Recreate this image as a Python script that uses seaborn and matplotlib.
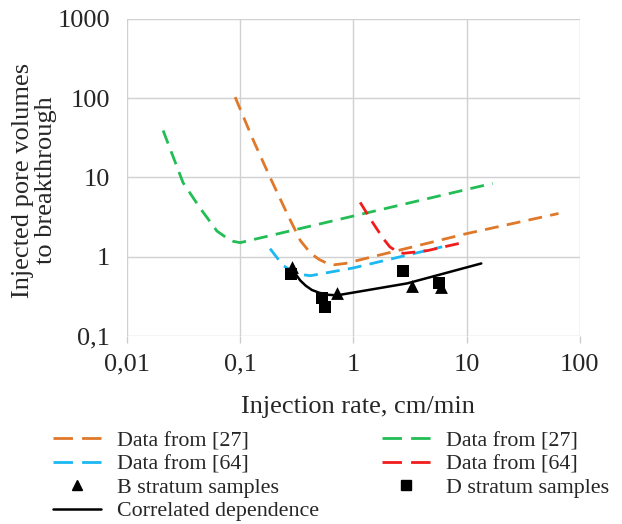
import matplotlib
matplotlib.use("Agg")
import matplotlib.pyplot as plt
from matplotlib.lines import Line2D
import numpy as np
import pandas as pd
import seaborn as sns

sns.set_style("whitegrid", {"grid.color": ".82"})
plt.rcParams["font.family"] = ["Liberation Serif", "DejaVu Serif"]

# curves (x: cm/min, y: pore volumes)
orange27_x = [0.0904, 0.13, 0.184, 0.26, 0.34, 0.42, 0.5, 0.58, 0.68, 0.85, 10, 65]
orange27_y = [103, 30, 10, 3.5, 1.6, 1.1, 0.92, 0.83, 0.79, 0.82, 1.95, 3.5]

green27_x = [0.0209, 0.0313, 0.0443, 0.0625, 0.075, 0.087, 0.1, 1, 17]
green27_y = [39, 8.6, 4.1, 2.1, 1.75, 1.56, 1.5, 3.25, 8.4]

blue64_x = [0.184, 0.24, 0.3, 0.36, 0.42, 1, 6.1]
blue64_y = [1.26, 0.77, 0.64, 0.59, 0.575, 0.72, 1.33]

red64_x = [1.15, 1.5, 1.84, 2.1, 2.4, 2.77, 4.5, 9.2]
red64_y = [4.83, 2.62, 1.69, 1.33, 1.17, 1.1, 1.19, 1.5]

corr_x = [0.31, 0.34, 0.38, 0.43, 0.5, 0.6, 0.72, 3.0, 13.5]
corr_y = [0.60, 0.50, 0.43, 0.38, 0.35, 0.33, 0.325, 0.46, 0.82]

b_x = [0.29, 0.72, 3.3, 5.9]
b_y = [0.74, 0.35, 0.42, 0.41]

d_x = [0.28, 0.53, 0.56, 2.75, 5.7]
d_y = [0.60, 0.30, 0.23, 0.665, 0.47]

x_ticks = [0.01, 0.1, 1, 10, 100]
x_labels = ["0,01", "0,1", "1", "10", "100"]
y_ticks = [0.1, 1, 10, 100, 1000]
y_labels = ["0,1", "1", "10", "100", "1000"]

c_orange = "#E0782A"
c_green = "#22BD55"
c_blue = "#1CB8F2"
c_red = "#F21C1C"
dash = (0, (5, 3))
leg_dash = (0, (7, 3.3))

fig = plt.figure(figsize=(6.22, 5.24), dpi=100)
ax = fig.add_axes([0.204, 0.359, 0.728, 0.605])

series = [
    (orange27_x, orange27_y, c_orange),
    (green27_x, green27_y, c_green),
    (blue64_x, blue64_y, c_blue),
    (red64_x, red64_y, c_red),
]
for xs, ys, col in series:
    d = pd.DataFrame({"x": xs, "y": ys})
    sns.lineplot(data=d, x="x", y="y", ax=ax, color=col, lw=2,
                 linestyle=dash, sort=False, estimator=None)

d = pd.DataFrame({"x": corr_x, "y": corr_y})
sns.lineplot(data=d, x="x", y="y", ax=ax, color="black", lw=1.8,
             sort=False, estimator=None)

sns.scatterplot(x=d_x, y=d_y, ax=ax, marker="s", color="black", s=85,
                edgecolor="black", linewidth=0, zorder=5)
sns.scatterplot(x=b_x, y=b_y, ax=ax, marker="^", color="black", s=85,
                edgecolor="black", linewidth=0, zorder=5)

ax.set_xscale("log")
ax.set_yscale("log")
ax.set_xlim(0.01, 100)
ax.set_ylim(0.1, 1000)
ax.set_xticks(x_ticks)
ax.set_xticklabels(x_labels, fontsize=19)
ax.set_yticks(y_ticks)
ax.set_yticklabels(y_labels, fontsize=19)
ax.minorticks_off()
ax.tick_params(axis="x", length=5, color=".8", width=1, pad=8, bottom=True)
ax.tick_params(axis="y", length=0, pad=12)
for s in ax.spines.values():
    s.set_visible(False)
ax.grid(True, which="major", lw=1)

ax.set_xlabel("Injection rate, cm/min", fontsize=19)
ax.xaxis.set_label_coords(0.51, -0.19)
ax.set_ylabel("Injected pore volumes\nto breakthrough", fontsize=19,
              linespacing=1.05)
ax.yaxis.set_label_coords(-0.155, 0.49)

handles = [
    Line2D([], [], color=c_orange, lw=2, linestyle=leg_dash),
    Line2D([], [], color=c_blue, lw=2, linestyle=leg_dash),
    Line2D([], [], color="black", marker="^", ls="none", markersize=7),
    Line2D([], [], color="black", lw=1.8),
    Line2D([], [], color=c_green, lw=2, linestyle=leg_dash),
    Line2D([], [], color=c_red, lw=2, linestyle=leg_dash),
    Line2D([], [], color="black", marker="s", ls="none", markersize=7),
]
labels = [
    "Data from [27]", "Data from [64]", "B stratum samples",
    "Correlated dependence", "Data from [27]", "Data from [64]",
    "D stratum samples",
]
fig.legend(handles, labels, ncol=2, loc="upper left",
           bbox_to_anchor=(0.085, 0.178), frameon=False, fontsize=15.8,
           handlelength=2.2, handletextpad=0.7, columnspacing=2.9,
           labelspacing=0.14, borderpad=0, borderaxespad=0)

fig.savefig("out.png", dpi=100)
